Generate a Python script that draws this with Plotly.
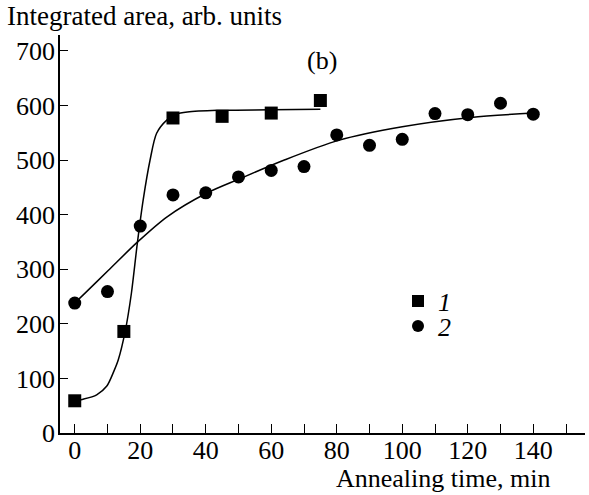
import plotly.graph_objects as go

# Series 1 (squares)
x1 = [0, 15, 30, 45, 60, 75]
y1 = [59, 186, 577, 580, 586, 609]
# Series 2 (circles)
x2 = [0, 10, 20, 30, 40, 50, 60, 70, 80, 90, 100, 110, 120, 130, 140]
y2 = [238, 259, 379, 436, 440, 469, 481, 488, 546, 527, 538, 585, 583, 604, 584]
# Fitted curves
fx1 = [0, 2.6, 6.7, 9.8, 11.8, 13.3, 15.4, 17.3, 19.1, 20.9, 23, 25, 28.1, 31, 34.4, 43.6, 60, 75]
fy1 = [59, 62, 70, 86, 111, 134, 186, 256, 347, 427, 500, 549, 573, 584, 588, 591, 592, 593]
fx2 = [0, 2.6, 10.3, 19.2, 28.2, 40.5, 50.5, 64, 80.5, 100, 121, 140]
fy2 = [238, 253, 298, 350, 396, 440, 466, 500, 536, 561, 578, 586]

xticks = [0, 20, 40, 60, 80, 100, 120, 140]
xminor = [10, 30, 50, 70, 90, 110, 130, 150]
yticks = [0, 100, 200, 300, 400, 500, 600, 700]

FONT = "Liberation Serif"
FS = 26
L, R, T, B = 60, 4, 35, 62
W, H = 589, 495
PW, PH = W - L - R, H - T - B


def px(xp):
    return (xp - L) / PW


def py(yp):
    return (H - B - yp) / PH


fig = go.Figure()
line = dict(color="black", width=1.5, shape="spline", smoothing=0.8)
fig.add_trace(go.Scatter(x=fx1, y=fy1, mode="lines", line=line, showlegend=False, hoverinfo="skip"))
fig.add_trace(go.Scatter(x=fx2, y=fy2, mode="lines", line=line, showlegend=False, hoverinfo="skip"))
fig.add_trace(go.Scatter(x=x1, y=y1, mode="markers", name="<i>1</i>", legend="legend",
                         marker=dict(symbol="square", size=13, color="black")))
fig.add_trace(go.Scatter(x=x2, y=y2, mode="markers", name="<i>2</i>", legend="legend2",
                         marker=dict(symbol="circle", size=13, color="black")))

leg = dict(xanchor="left", yanchor="middle", bgcolor="rgba(0,0,0,0)", itemsizing="constant",
           itemwidth=30, font=dict(family=FONT, size=FS), borderwidth=0)

fig.update_layout(
    width=W, height=H,
    margin=dict(l=L, r=R, t=T, b=B),
    paper_bgcolor="white", plot_bgcolor="white",
    font=dict(family=FONT, size=FS, color="black"),
    legend=dict(leg, x=px(398), y=py(301)),
    legend2=dict(leg, x=px(398), y=py(326)),
    xaxis=dict(range=[-4.5, 155.8], showline=True, linecolor="black", linewidth=1.5,
               ticks="inside", ticklen=9, tickwidth=1.2, tickcolor="black",
               tickvals=xticks, ticktext=[str(v) for v in xticks],
               minor=dict(tickvals=xminor, ticks="inside", ticklen=9, tickwidth=1.2, tickcolor="black"),
               showgrid=False, zeroline=False, automargin=False, ticklabelstandoff=-7,
               tickfont=dict(family=FONT, size=FS)),
    yaxis=dict(range=[0, 729], showline=True, linecolor="black", linewidth=1.5,
               ticks="inside", ticklen=8, tickwidth=1.2, tickcolor="black",
               tickvals=yticks, ticktext=[str(v) for v in yticks],
               showgrid=False, zeroline=False, automargin=False, ticklabelstandoff=-2,
               tickfont=dict(family=FONT, size=FS)),
    annotations=[
        dict(text="Integrated area, arb. units", xref="paper", yref="paper", x=px(5), y=py(16),
             xanchor="left", yanchor="middle", showarrow=False, font=dict(family=FONT, size=27)),
        dict(text="Annealing time, min", xref="paper", yref="paper", x=px(552), y=py(478),
             xanchor="right", yanchor="middle", showarrow=False, font=dict(family=FONT, size=FS)),
        dict(text="(b)", xref="paper", yref="paper", x=px(322), y=py(60),
             xanchor="center", yanchor="middle", showarrow=False, font=dict(family=FONT, size=FS)),
    ],
)
fig.write_html("out.html", config={"displayModeBar": False},
               post_script="document.body.style.margin='0';")
